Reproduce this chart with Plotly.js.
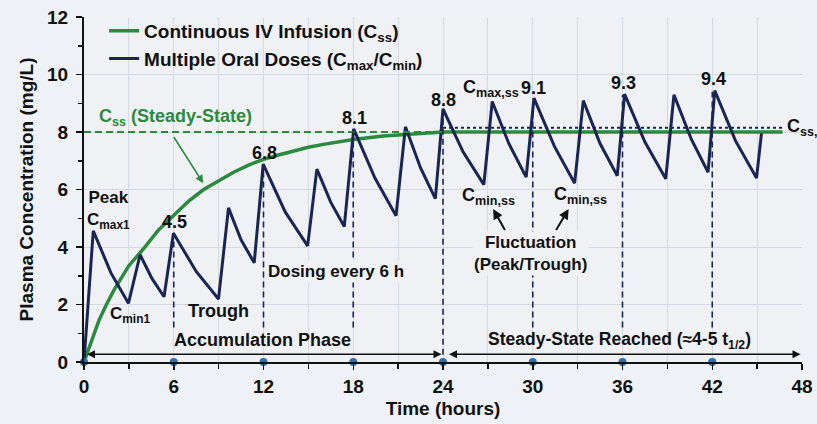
<!DOCTYPE html>
<html>
<head>
<meta charset="utf-8">
<script src="https://cdn.plot.ly/plotly-3.0.1.min.js"></script>
<style>html,body{margin:0;padding:0;background:#eef1f5;}</style>
</head>
<body>
<div id="chart" style="width:817px;height:424px;"></div>
<script>
// Continuous IV infusion (green curve)
const ivTime = [0, 0.5, 1, 1.5, 2, 3, 4, 5, 6, 7, 8, 9, 10, 11, 12, 13, 14, 15, 16, 18, 20, 22, 24, 27, 30, 34, 38, 42, 46.7];
const ivConc = [0, 0.75, 1.45, 2.0, 2.5, 3.35, 3.95, 4.6, 5.1, 5.6, 6.0, 6.3, 6.6, 6.85, 7.05, 7.2, 7.35, 7.47, 7.57, 7.74, 7.86, 7.94, 8.0, 8.0, 8.0, 8.0, 8.0, 8.0, 8.0];

// Multiple oral doses (navy saw-tooth)
const oralTime = [0, 0.62, 1.8, 2.97, 3.75, 4.55, 5.35, 5.98, 7.5, 8.99, 9.66, 10.5, 11.38,
  11.98, 13.45, 14.95, 15.57, 16.5, 17.4, 18.03, 19.45, 20.86, 21.49, 22.5, 23.49,
  24.0, 25.35, 26.73, 27.29, 28.4, 29.56, 30.08, 31.45, 32.8, 33.38, 34.5, 35.65,
  36.14, 37.5, 38.89, 39.44, 40.6, 41.72, 42.17, 43.55, 44.96, 45.29];
const oralConc = [0, 4.56, 3.1, 2.04, 3.73, 2.9, 2.27, 4.48, 3.15, 2.19, 5.36, 4.25, 3.45,
  6.88, 5.22, 4.04, 6.71, 5.55, 4.71, 8.11, 6.4, 5.09, 8.18, 6.75, 5.68,
  8.8, 7.3, 6.17, 9.06, 7.6, 6.43, 9.18, 7.5, 6.22, 9.09, 7.6, 6.48,
  9.32, 7.65, 6.37, 9.29, 7.75, 6.6, 9.44, 7.7, 6.4, 7.95];

// Labelled peaks at dosing times
const doseTimes = [6, 12, 18, 24, 30, 36, 42];
const peakLabels = [4.5, 6.8, 8.1, 8.8, 9.1, 9.3, 9.4];
const dropLineBottom = [1.2, 1.2, 1.2, 0.25, 1.2, 1.2, 1.2];

// Dose markers on the time axis
const markerTimes = [0, 6, 12, 18, 24, 30, 36, 42];
const markerConc = [0, 0, 0, 0, 0, 0, 0, 0];

// Steady-state reference levels
const cssLevel = 8.0;
const cssAvgLevel = 8.15;
const cssDashX = [0, 24];
const cssDotX = [24, 46.7];

const xTicks = [0, 6, 12, 18, 24, 30, 36, 42, 48];
const yTicks = [0, 2, 4, 6, 8, 10, 12];

const NAVY = '#1b2552';
const GREEN = '#2b8a3e';
const FONT = 'Liberation Sans, Arial, sans-serif';
const BG = '#eff1f5';

// drop lines built from data
const dropX = [], dropY = [];
doseTimes.forEach((t, i) => { dropX.push(t, t, null); dropY.push(dropLineBottom[i], peakLabels[i], null); });

const traces = [
  {x: ivTime, y: ivConc, mode: 'lines', name: 'Continuous IV Infusion (C<sub>ss</sub>)',
   line: {color: GREEN, width: 3.5}, cliponaxis: false},
  {x: oralTime, y: oralConc, mode: 'lines', name: 'Multiple Oral Doses (C<sub>max</sub>/C<sub>min</sub>)',
   line: {color: NAVY, width: 3}, cliponaxis: false},
  {x: cssDashX, y: [cssLevel, cssLevel], mode: 'lines', showlegend: false,
   line: {color: GREEN, width: 2, dash: '7px,4px'}},
  {x: cssDotX, y: [cssAvgLevel, cssAvgLevel], mode: 'lines', showlegend: false,
   line: {color: NAVY, width: 2, dash: 'dot'}},
  {x: dropX, y: dropY, mode: 'lines', showlegend: false,
   line: {color: NAVY, width: 1.6, dash: '6px,4px'}},
  {x: markerTimes, y: markerConc, mode: 'markers', showlegend: false, cliponaxis: false,
   marker: {color: '#2f6fa7', size: 8}}
];

const f = (size, color) => ({family: FONT, size: size, color: color || '#111', weight: 'bold'});
const ann = (x, y, text, extra) => Object.assign({x, y, xref: 'x', yref: 'y', text, showarrow: false,
  font: f(18)}, extra || {});
const arrow = (x, y, ax, ay, color, width, both) => Object.assign({x, y, ax, ay, xref: 'x', yref: 'y',
  axref: 'x', ayref: 'y', text: '', showarrow: true, arrowhead: 2, arrowsize: 1, arrowwidth: width,
  arrowcolor: color}, both ? {startarrowhead: 2, arrowside: 'end+start'} : {});

const annotations = [
  ann(1.63, 5.3, 'Peak<br>C<sub>max1</sub>', {font: f(17)}),
  ann(3.1, 1.62, 'C<sub>min1</sub>', {font: f(17)}),
  ann(8.99, 1.79, 'Trough'),
  ann(16.83, 3.16, 'Dosing every 6 h', {bgcolor: BG, font: f(17)}),
  ann(11.9, 0.76, 'Accumulation Phase'),
  ann(35.8, 0.76, 'Steady-State Reached (≈4-5 t<sub>1/2</sub>)', {font: f(17.5)}),
  ann(6.15, 8.49, 'C<sub>ss</sub> (Steady-State)', {font: f(18, GREEN)}),
  ann(27.2, 9.52, 'C<sub>max,ss</sub>'),
  ann(27.07, 5.77, 'C<sub>min,ss</sub>'),
  ann(33.2, 5.8, 'C<sub>min,ss</sub>'),
  ann(29.85, 3.79, 'Fluctuation<br>(Peak/Trough)', {bgcolor: BG, font: f(17)}),
  ann(46.85, cssAvgLevel, 'C<sub>ss,</sub>', {xanchor: 'left'}),
  arrow(7.97, 6.22, 5.95, 7.87, GREEN, 1.6),
  arrow(27.35, 5.32, 28.2, 4.54, '#111', 2),
  arrow(32.4, 5.32, 31.5, 4.54, '#111', 2),
  arrow(23.9, 0.27, 0.1, 0.27, '#111', 1.6, true),
  arrow(47.9, 0.27, 24.3, 0.27, '#111', 1.6, true)
];

// peak value labels
const peakLabelY = [4.86, 7.26, 8.49, 9.12, 9.52, 9.71, 9.83];
doseTimes.forEach((t, i) => annotations.push(ann(t + 0.05, peakLabelY[i], peakLabels[i].toFixed(1))));

const layout = {
  width: 817, height: 424,
  margin: {l: 84, r: 15, t: 13, b: 62},
  paper_bgcolor: '#eef1f5',
  plot_bgcolor: BG,
  font: f(18),
  showlegend: true,
  legend: {x: 0.028, y: 1.015, xanchor: 'left', yanchor: 'top', bgcolor: 'rgba(0,0,0,0)',
    font: f(19), tracegroupgap: 0},
  xaxis: {range: [0, 48], tickvals: xTicks, ticks: 'outside', ticklen: 6, tickwidth: 1.5, tickcolor: '#111',
    showline: true, linecolor: '#111', linewidth: 2, showgrid: true, gridcolor: '#d5d9e0', gridwidth: 1,
    zeroline: false, tickfont: f(19),
    minor: {dtick: 3, tick0: 0, ticks: 'outside', ticklen: 5, tickcolor: '#111', showgrid: true, gridcolor: '#d5d9e0'},
    title: {text: 'Time (hours)', font: f(19), standoff: 6}},
  yaxis: {range: [0, 12], tickvals: yTicks, ticks: 'outside', ticklen: 6, tickwidth: 1.5, tickcolor: '#111',
    showline: true, linecolor: '#111', linewidth: 2, showgrid: true, gridcolor: '#d5d9e0', gridwidth: 1,
    zeroline: false, tickfont: f(19), ticklabelstandoff: 4,
    minor: {dtick: 1, tick0: 0, ticks: 'outside', ticklen: 4, tickcolor: '#111', showgrid: false},
    title: {text: 'Plasma Concentration (mg/L)', font: f(19), standoff: 8}},
  annotations: annotations
};

Plotly.newPlot('chart', traces, layout, {displayModeBar: false, staticPlot: true});
</script>
</body>
</html>
